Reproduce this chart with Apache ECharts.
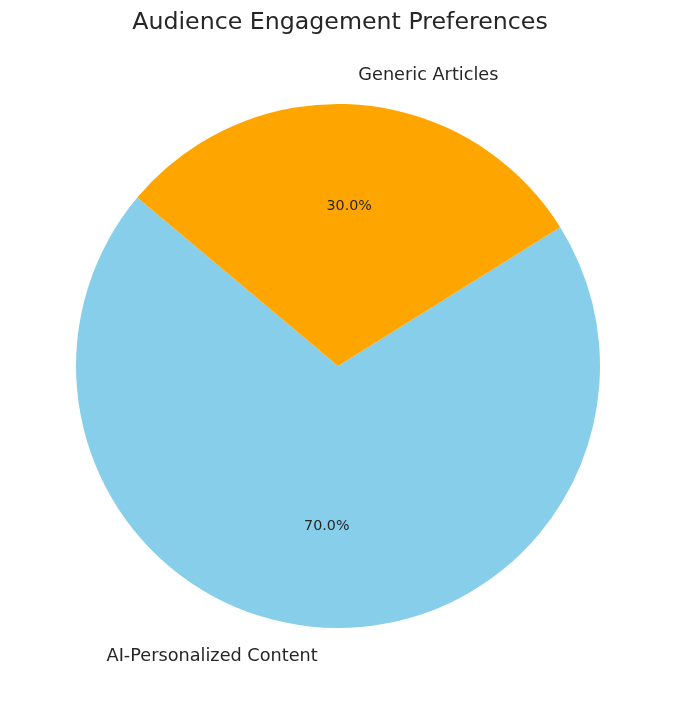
<!DOCTYPE html>
<html>
<head>
<meta charset="utf-8">
<script src="https://cdn.jsdelivr.net/npm/echarts@6/dist/echarts.min.js"></script>
<style>
html,body{margin:0;padding:0;background:#fff;}
#chart{width:680px;height:707px;}
</style>
</head>
<body>
<div id="chart"></div>
<script>
var titleText = 'Audience Engagement Preferences';
var categories = ['AI-Personalized Content', 'Generic Articles'];
var values = [70, 30];
var colors = ['#87CEEB', '#FFA500'];

var FONT = '"DejaVu Sans", sans-serif';
var R = 262;
var C = [338, 366];

var data = categories.map(function (c, i) {
  return { name: c, value: values[i], itemStyle: { color: colors[i] } };
});
var total = values.reduce(function (a, b) { return a + b; }, 0);

var chart = echarts.init(document.getElementById('chart'), null, { renderer: 'canvas' });
chart.setOption({
  animation: false,
  backgroundColor: '#ffffff',
  title: {
    text: titleText,
    left: 'center',
    top: 6,
    textStyle: { fontFamily: FONT, fontSize: 23.7, fontWeight: 'normal', color: '#262626' }
  },
  series: [
    {
      type: 'pie',
      center: C,
      radius: [0, R],
      startAngle: 140,
      clockwise: false,
      silent: true,
      data: data,
      itemStyle: { borderWidth: 0 },
      label: {
        show: true,
        position: 'outside',
        formatter: '{b}',
        fontFamily: FONT,
        fontSize: 17.7,
        color: '#262626',
        distanceToLabelLine: 0
      },
      labelLine: { show: false, length: 29, length2: 0 },
      avoidLabelOverlap: false
    },
    {
      type: 'pie',
      center: C,
      radius: [R * 0.2, R],
      startAngle: 140,
      clockwise: false,
      silent: true,
      data: data.map(function (d) {
        return { name: d.name, value: d.value, itemStyle: { color: 'rgba(0,0,0,0)' } };
      }),
      label: {
        show: true,
        position: 'inside',
        formatter: function (p) { return (p.value / total * 100).toFixed(1) + '%'; },
        fontFamily: FONT,
        fontSize: 14.3,
        color: '#262626'
      },
      labelLine: { show: false }
    }
  ]
});
</script>
</body>
</html>
